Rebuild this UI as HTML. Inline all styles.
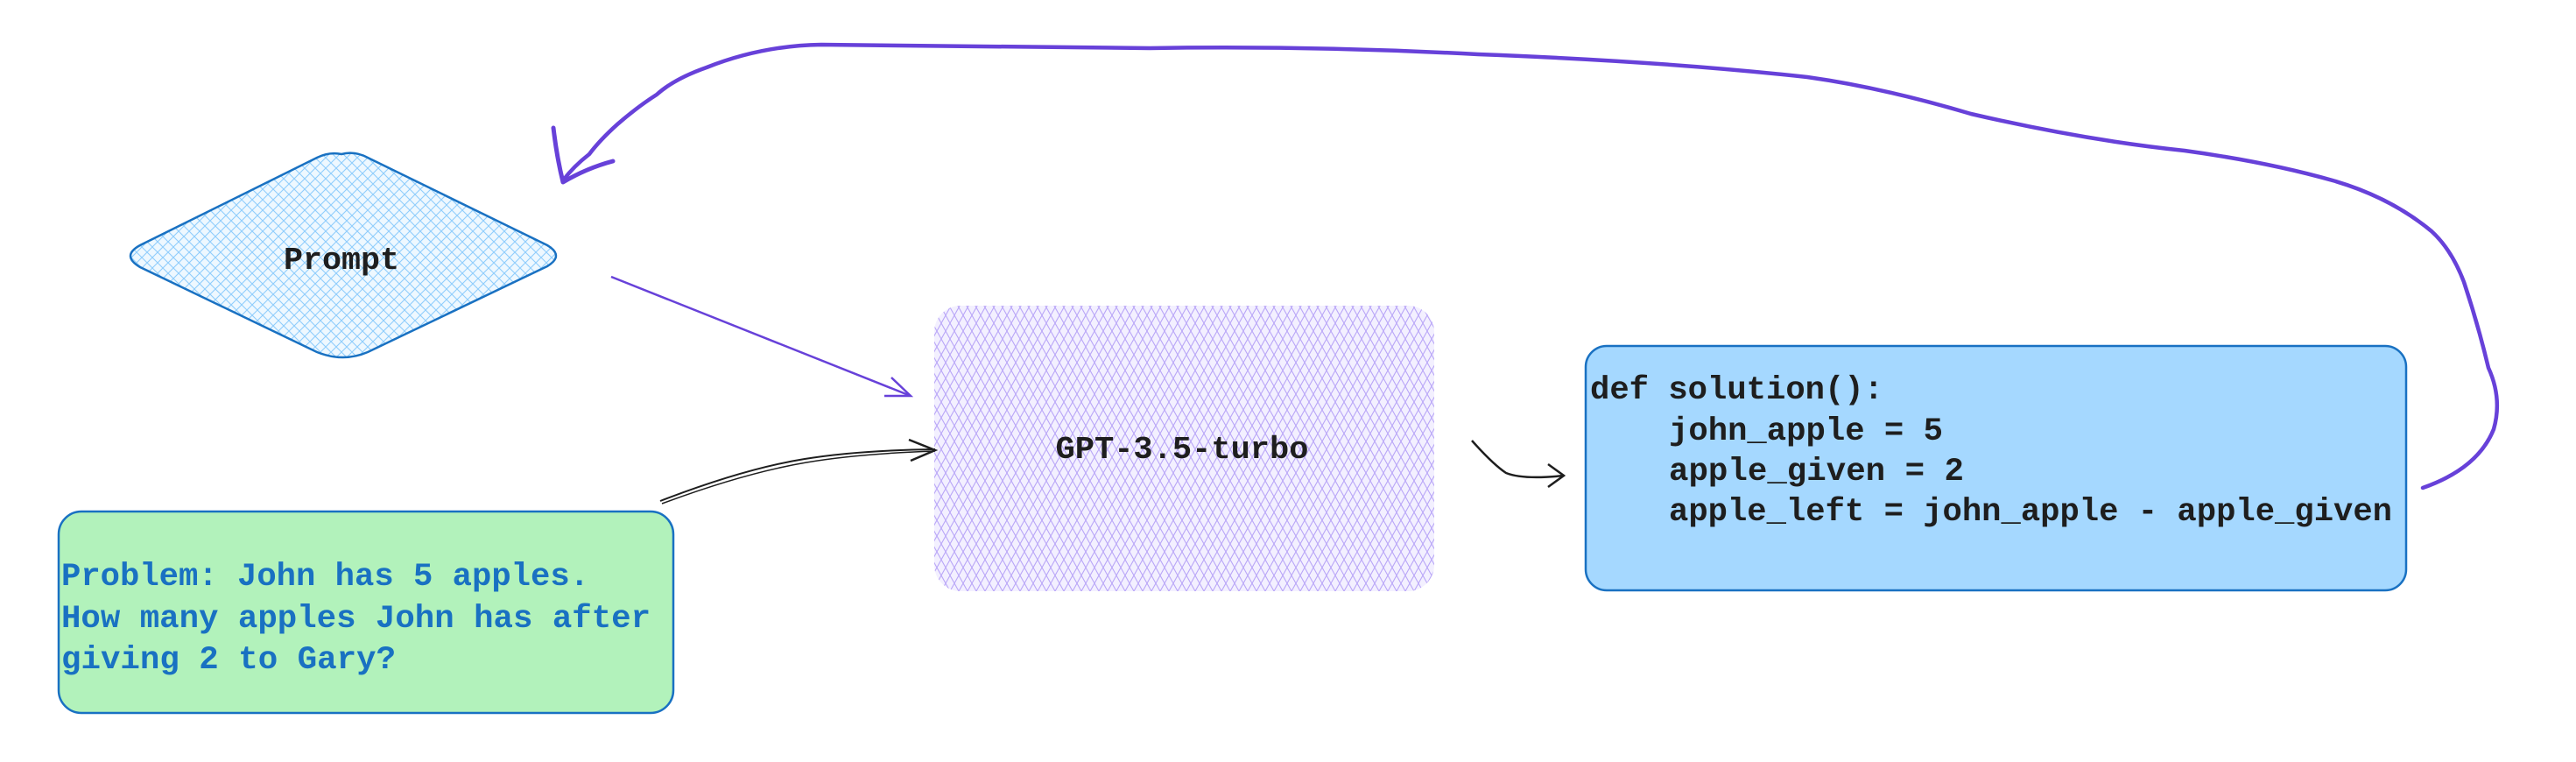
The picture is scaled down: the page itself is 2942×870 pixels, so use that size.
<!DOCTYPE html>
<html><head><meta charset="utf-8"><style>
html,body{margin:0;padding:0;background:#fff;}
body{width:2942px;height:870px;position:relative;overflow:hidden;}
svg{position:absolute;left:0;top:0;}
text{font-family:"Liberation Mono","DejaVu Sans Mono",monospace;}
</style></head><body>
<svg width="2942" height="870" viewBox="0 0 2942 870" xmlns="http://www.w3.org/2000/svg">
<defs>
<pattern id="hb" width="12" height="12" patternUnits="userSpaceOnUse">
<path d="M0 0L12 12M12 0L0 12" stroke="#8fcdfc" stroke-width="1.1" fill="none"/>
</pattern>
<pattern id="hp" width="10" height="18" patternUnits="userSpaceOnUse">
<path d="M0 0L10 18M10 0L0 18" stroke="#b9a6f7" stroke-width="1.1" fill="none"/>
</pattern>
</defs>
<path d="M390 176 Q405 172 420 180 L625 280 Q645 292 625 304 L420 402 Q392 414 362 402 L160 305 Q138 292 160 280 L362 180 Q376 173 390 176Z" fill="#eef8ff" stroke="none"/>
<path d="M390 176 Q405 172 420 180 L625 280 Q645 292 625 304 L420 402 Q392 414 362 402 L160 305 Q138 292 160 280 L362 180 Q376 173 390 176Z" fill="url(#hb)" stroke="#1971c2" stroke-width="2.5"/>
<text x="390" y="307" font-size="36" text-anchor="middle" fill="#1e1e1e" font-weight="bold" textLength="132" lengthAdjust="spacingAndGlyphs">Prompt</text>
<rect x="1067" y="349" width="571" height="326" rx="30" fill="#f3f0ff"/>
<rect x="1067" y="349" width="571" height="326" rx="30" fill="url(#hp)"/>
<text x="1350" y="523" font-size="36" text-anchor="middle" fill="#1e1e1e" font-weight="bold" textLength="289" lengthAdjust="spacingAndGlyphs">GPT-3.5-turbo</text>
<rect x="67" y="584" width="702" height="230" rx="26" fill="#b2f2bb" stroke="#1971c2" stroke-width="2.5"/>
<text font-size="37" fill="#1971c2" font-weight="bold">
<tspan x="70" y="668" textLength="603" lengthAdjust="spacingAndGlyphs">Problem: John has 5 apples.</tspan>
<tspan x="70" y="716" textLength="673" lengthAdjust="spacingAndGlyphs">How many apples John has after</tspan>
<tspan x="70" y="763" textLength="382" lengthAdjust="spacingAndGlyphs">giving 2 to Gary?</tspan>
</text>
<rect x="1811" y="395" width="937" height="279" rx="24" fill="#a5d8ff" stroke="#1971c2" stroke-width="2.5"/>
<text font-size="37" fill="#1e1e1e" font-weight="bold" xml:space="preserve">
<tspan x="1816" y="455" textLength="335" lengthAdjust="spacingAndGlyphs">def solution():</tspan>
<tspan x="1906" y="502" textLength="313" lengthAdjust="spacingAndGlyphs">john_apple = 5</tspan>
<tspan x="1906" y="548" textLength="337" lengthAdjust="spacingAndGlyphs">apple_given = 2</tspan>
<tspan x="1906" y="594" textLength="826" lengthAdjust="spacingAndGlyphs">apple_left = john_apple - apple_given</tspan>
</text>
<path d="M698 316 L1040 452" stroke="#6741d9" stroke-width="2.5" fill="none"/>
<path d="M1018 431 L1040 452 L1010 452" stroke="#6741d9" stroke-width="2.5" fill="none"/>
<path d="M754 572 Q850 535 919 524 Q980 514 1068 513" stroke="#1e1e1e" stroke-width="2" fill="none"/>
<path d="M756 575 Q850 540 921 528 Q980 518 1068 515" stroke="#1e1e1e" stroke-width="1.5" fill="none"/>
<path d="M1038 502 L1068 514 L1040 526" stroke="#1e1e1e" stroke-width="2.5" fill="none"/>
<path d="M1681 503 Q1705 530 1720 540 Q1740 548 1786 543" stroke="#1e1e1e" stroke-width="2.5" fill="none"/>
<path d="M1768 530 L1786 543 L1768 556" stroke="#1e1e1e" stroke-width="2.5" fill="none"/>
<path d="M2767 557 Q2830 535 2848 490 Q2858 455 2842 420 Q2830 370 2814 322 Q2800 285 2777 264 Q2730 225 2664 206 Q2590 185 2495 172 Q2380 160 2251 130 Q2150 100 2064 88 Q1900 70 1688 62 Q1500 52 1313 55 Q1100 52 938 51 Q870 52 807 77 Q770 90 750 108 Q728 122 705 142 Q685 160 673 176 Q655 190 643 206" stroke="#6741d9" stroke-width="4.5" fill="none" stroke-linecap="round"/>
<path d="M632 146 Q636 180 643 208 Q670 192 700 184" stroke="#6741d9" stroke-width="5" fill="none" stroke-linecap="round" stroke-linejoin="round"/>
</svg>
</body></html>
